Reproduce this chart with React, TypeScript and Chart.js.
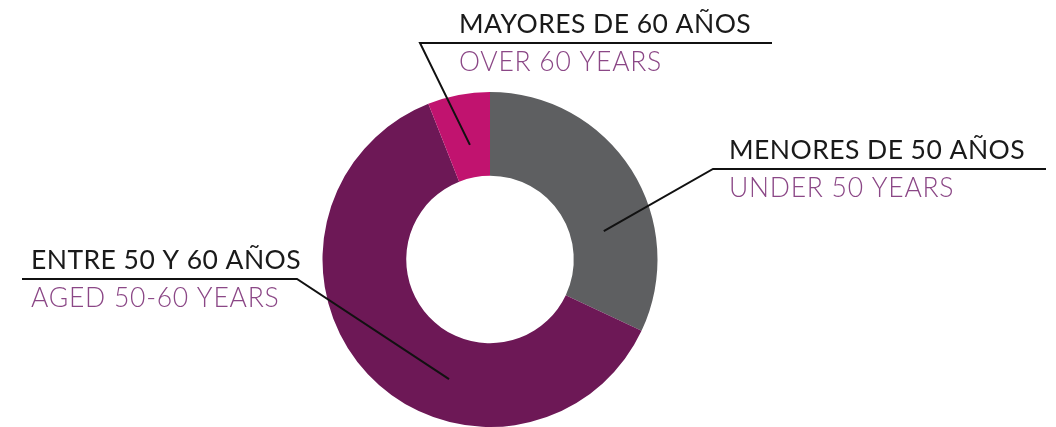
import React, { useEffect, useRef } from "react";
import { Chart, registerables } from "chart.js";

Chart.register(...registerables);

const categories = ["MENORES DE 50 AÑOS", "ENTRE 50 Y 60 AÑOS", "MAYORES DE 60 AÑOS"];
const subtitles = ["UNDER 50 YEARS", "AGED 50-60 YEARS", "OVER 60 YEARS"];
const values = [32, 62, 6];
const colors = ["#5e5f61", "#6d1856", "#c1136f"];

// label layout: anchor fraction along arc / across ring, elbow point, line end x, text x
const labelLayout = [
  { af: 0.66, rf: 0.4, ex: 713, ey: 169, lx: 1046, tx: 729 },
  { af: 0.375, rf: 0.51, ex: 297, ey: 279, lx: 22, tx: 31 },
  { af: 0.54, rf: 0.39, ex: 420, ey: 43, lx: 772, tx: 459 },
];

const FONT = "Lato, 'Open Sans', sans-serif";

const leaderPlugin = {
  id: "leaders",
  afterDraw(chart: any) {
    const ctx = chart.ctx;
    const meta = chart.getDatasetMeta(0);
    meta.data.forEach((arc: any, i: number) => {
      const L = labelLayout[i];
      const p = arc.getProps(["x", "y", "startAngle", "endAngle", "innerRadius", "outerRadius"], true);
      const a = p.startAngle + (p.endAngle - p.startAngle) * L.af;
      const r = p.innerRadius + (p.outerRadius - p.innerRadius) * L.rf;
      const ax = p.x + Math.cos(a) * r;
      const ay = p.y + Math.sin(a) * r;
      ctx.save();
      ctx.strokeStyle = "#111";
      ctx.lineWidth = 2;
      ctx.beginPath();
      ctx.moveTo(ax, ay);
      ctx.lineTo(L.ex, L.ey);
      ctx.lineTo(L.lx, L.ey);
      ctx.stroke();
      ctx.textBaseline = "alphabetic";
      ctx.textAlign = "left";
      ctx.fillStyle = "#1a1a1a";
      ctx.font = `400 26.5px ${FONT}`;
      ctx.letterSpacing = "0.45px";
      ctx.fillText(categories[i], L.tx, L.ey - 10);
      ctx.fillStyle = "#8b4786";
      ctx.font = `300 26.5px ${FONT}`;
      ctx.letterSpacing = "0.75px";
      ctx.fillText(subtitles[i], L.tx, L.ey + 28);
      ctx.restore();
    });
  },
};

export default function App() {
  const ref = useRef<HTMLCanvasElement>(null);
  useEffect(() => {
    const chart = new Chart(ref.current!, {
      type: "doughnut",
      data: {
        labels: categories,
        datasets: [
          {
            data: values,
            backgroundColor: colors,
            borderWidth: 0,
          },
        ],
      },
      options: {
        responsive: false,
        animation: false,
        cutout: "50%",
        layout: { padding: { left: 322, right: 398, top: 92, bottom: 0 } },
        plugins: { legend: { display: false }, tooltip: { enabled: false } },
      },
      plugins: [leaderPlugin],
    });
    return () => chart.destroy();
  }, []);
  return (
    <div style={{ position: "absolute", left: 0, top: 0, width: 1056, height: 427, background: "#fff" }}>
      <canvas ref={ref} width={1056} height={427} />
    </div>
  );
}
